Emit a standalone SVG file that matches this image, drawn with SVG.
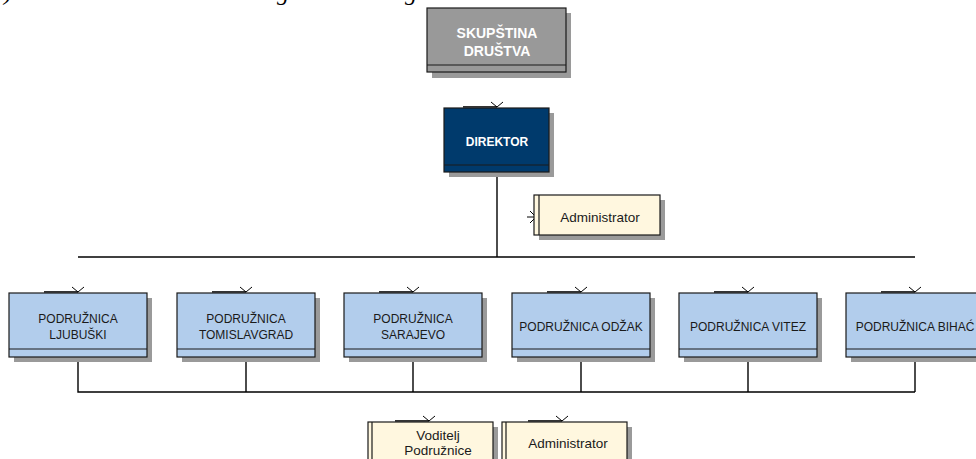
<svg xmlns="http://www.w3.org/2000/svg" width="976" height="459" viewBox="0 0 976 459">
<style>
.frag{font-family:"Liberation Serif",serif;font-style:italic;font-size:24px;fill:#000}
.sh{fill:#9a9a9a}
.bx{stroke:#1a1a1a;stroke-width:1.2}
.gray{fill:#999999}
.navy{fill:#003a6c}
.blue{fill:#b2cdec}
.yel{fill:#fff7df}
.ln{stroke:#1a1a1a;stroke-width:1.2;fill:none}
.wire{stroke:#000;stroke-width:1.4;fill:none}
.tb{font-family:"Liberation Sans",Arial,sans-serif;font-weight:bold;fill:#fff;text-anchor:middle}
.t{font-family:"Liberation Sans",Arial,sans-serif;font-size:12px;fill:#1a1a1a;text-anchor:middle}
.ty{font-family:"Liberation Sans",Arial,sans-serif;font-size:13.5px;fill:#1a1a1a;text-anchor:middle}
.chev{stroke:#000;stroke-width:1;fill:none}
.tick{stroke:#333;stroke-width:2;fill:none}
</style>
<defs>
<g id="vmark"><path class="tick" d="M-34,-1 H0"/><path class="chev" d="M-6,-6 L0,-1 L6,-6"/></g>
</defs>

<text class="frag" x="4" y="-0.5">)</text>
<text class="frag" x="277" y="-0.5">g</text>
<text class="frag" x="405" y="-0.5">g</text>

<g id="connectors">
<path class="wire" d="M497,172 V257"/>
<path class="wire" d="M78,257 H915"/>
<path class="wire" d="M78,357 V392 H915"/>
<path class="wire" d="M246,357 V392"/>
<path class="wire" d="M413,357 V392"/>
<path class="wire" d="M581,357 V392"/>
<path class="wire" d="M748,357 V392"/>
<path class="wire" d="M915,357 V392"/>
<path class="chev" d="M527,217 H560"/>
<path class="chev" d="M530,211 L536,217 L530,223"/>
</g>

<g id="skupstina">
<rect class="sh" x="432" y="13" width="139" height="65"/>
<rect class="bx gray" x="427" y="8" width="139" height="64"/>
<path class="ln" d="M427,65 H566"/>
<text class="tb" font-size="14" x="497" y="38">SKUPŠTINA</text>
<text class="tb" font-size="14" x="497" y="56">DRUŠTVA</text>
</g>

<g id="direktor">
<rect class="sh" x="449" y="113" width="105" height="64"/>
<rect class="bx navy" x="444" y="108" width="105" height="64"/>
<path class="ln" d="M444,165 H549"/>
<use href="#vmark" x="497" y="108"/>
<text class="tb" font-size="12" x="497" y="146">DIREKTOR</text>
</g>

<g id="administrator-top">
<rect class="sh" x="539" y="200" width="126" height="40"/>
<rect class="bx yel" x="534" y="195" width="126" height="40"/>
<path class="ln" d="M539,195 V235"/>
<text class="ty" x="600" y="222">Administrator</text>
</g>

<g id="ljubuski">
<rect class="sh" x="14" y="298" width="138" height="64"/>
<rect class="bx blue" x="9" y="293" width="138" height="64"/>
<path class="ln" d="M9,349 H147"/>
<use href="#vmark" x="78" y="293"/>
<text class="t" x="78" y="323">PODRUŽNICA</text>
<text class="t" x="78" y="339">LJUBUŠKI</text>
</g>

<g id="tomislavgrad">
<rect class="sh" x="182" y="298" width="138" height="64"/>
<rect class="bx blue" x="177" y="293" width="138" height="64"/>
<path class="ln" d="M177,349 H315"/>
<use href="#vmark" x="246" y="293"/>
<text class="t" x="246" y="323">PODRUŽNICA</text>
<text class="t" x="246" y="339">TOMISLAVGRAD</text>
</g>

<g id="sarajevo">
<rect class="sh" x="349" y="298" width="138" height="64"/>
<rect class="bx blue" x="344" y="293" width="138" height="64"/>
<path class="ln" d="M344,349 H482"/>
<use href="#vmark" x="413" y="293"/>
<text class="t" x="413" y="323">PODRUŽNICA</text>
<text class="t" x="413" y="339">SARAJEVO</text>
</g>

<g id="odzak">
<rect class="sh" x="517" y="298" width="138" height="64"/>
<rect class="bx blue" x="512" y="293" width="138" height="64"/>
<path class="ln" d="M512,349 H650"/>
<use href="#vmark" x="581" y="293"/>
<text class="t" x="581" y="331">PODRUŽNICA ODŽAK</text>
</g>

<g id="vitez">
<rect class="sh" x="684" y="298" width="138" height="64"/>
<rect class="bx blue" x="679" y="293" width="138" height="64"/>
<path class="ln" d="M679,349 H817"/>
<use href="#vmark" x="748" y="293"/>
<text class="t" x="748" y="331">PODRUŽNICA VITEZ</text>
</g>

<g id="bihac">
<rect class="sh" x="851" y="298" width="138" height="64"/>
<rect class="bx blue" x="846" y="293" width="138" height="64"/>
<path class="ln" d="M846,349 H984"/>
<use href="#vmark" x="915" y="293"/>
<text class="t" x="915" y="331">PODRUŽNICA BIHAĆ</text>
</g>

<g id="voditelj">
<rect class="sh" x="373" y="427" width="125" height="40"/>
<rect class="bx yel" x="368" y="422" width="125" height="45"/>
<path class="ln" d="M372,422 V467"/>
<use href="#vmark" x="429" y="422"/>
<text class="ty" x="438" y="440">Voditelj</text>
<text class="ty" x="438" y="455">Podružnice</text>
</g>

<g id="administrator-bottom">
<rect class="sh" x="507" y="427" width="125" height="40"/>
<rect class="bx yel" x="502" y="422" width="125" height="45"/>
<path class="ln" d="M506,422 V467"/>
<use href="#vmark" x="562" y="422"/>
<text class="ty" x="568" y="448">Administrator</text>
</g>
</svg>
